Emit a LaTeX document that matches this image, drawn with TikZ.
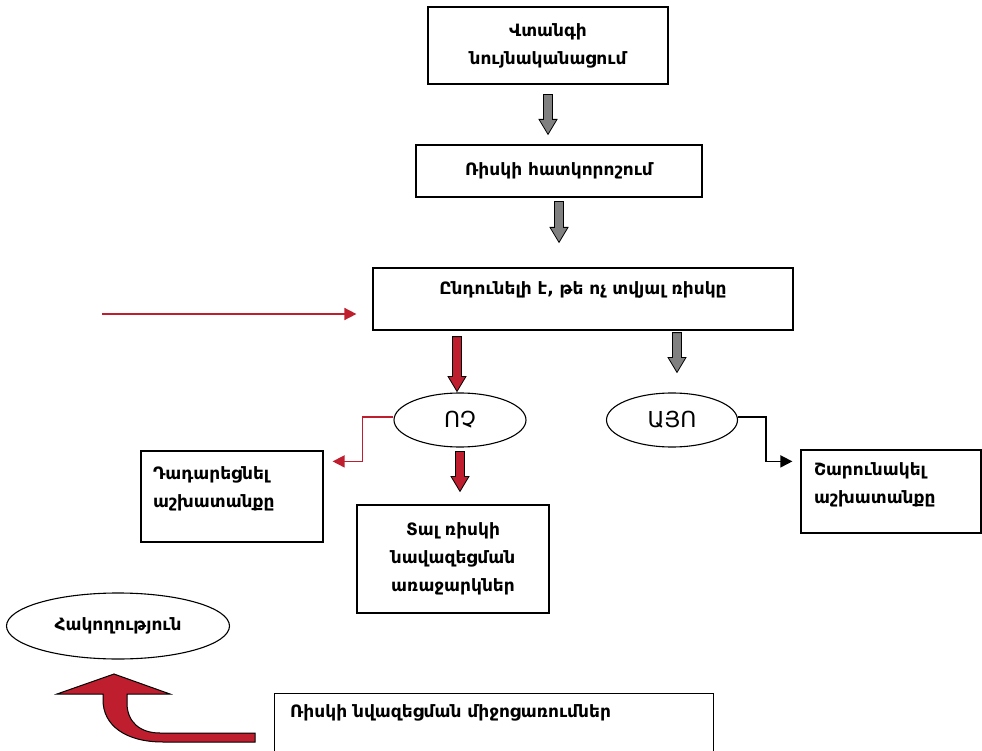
\documentclass[tikz,border=0pt]{standalone}
\usepackage{fontspec}
\setmainfont{DejaVu Sans}
\usetikzlibrary{calc,arrows.meta,shapes.geometric}
\definecolor{myred}{RGB}{190,30,45}
\definecolor{mygray}{RGB}{128,128,128}
\newcommand{\blockarr}[3]{%
  \path let \p1=(#1), \p2=(#2) in
    [draw=black, line width=0.8pt, fill=#3, line join=miter]
    (\x1-4.5pt,\y1) -- (\x1-4.5pt,\y2+15pt) -- (\x1-9pt,\y2+15pt) -- (\x1,\y2)
    -- (\x1+9pt,\y2+15pt) -- (\x1+4.5pt,\y2+15pt) -- (\x1+4.5pt,\y1) -- cycle;}
\begin{document}
\begin{tikzpicture}[x=1pt,y=-1pt,
  box/.style={draw, line width=1.2pt, inner sep=0pt, align=center,
    font=\bfseries\fontsize{17}{28}\selectfont},
  oval/.style={draw, line width=1.1pt, ellipse, inner sep=0pt,
    font=\fontsize{22}{24}\selectfont},
  redline/.style={draw=myred, line width=1.6pt, -{Triangle[length=12pt,width=12pt]}},
  blackline/.style={draw=black, line width=1.6pt, -{Triangle[length=12pt,width=12pt]}}]
\useasboundingbox (0,0) rectangle (982,751);

\node[box, minimum width=240, minimum height=77] (b1) at (548,45.5) {Վտանգի\\նույնականացում};
\node[box, minimum width=286, minimum height=52] (b2) at (559,171) {Ռիսկի հատկորոշում};
\node[box, minimum width=420, minimum height=62] (b3) at (583,299) {Ընդունելի է, թե ոչ տվյալ ռիսկը\\[-6pt]\mbox{}};
\node[oval, minimum width=132, minimum height=54] (no) at (460,420) {ՈՉ};
\node[oval, minimum width=131, minimum height=54] (yes) at (672,420) {ԱՅՈ};
\node[box, minimum width=182, minimum height=91, text width=158, align=left] (stop) at (232,496.5) {Դադարեցնել\\աշխատանքը\\[-10pt]\mbox{}};
\node[box, minimum width=192, minimum height=108] (tal) at (453,559) {Տալ ռիսկի\\նավազեցման\\առաջարկներ};
\node[box, minimum width=180, minimum height=83, text width=154, align=left] (cont) at (891,491.5) {Շարունակել\\աշխատանքը\\[-12pt]\mbox{}};
\node[oval, minimum width=223, minimum height=66, font=\bfseries\fontsize{17}{20}\selectfont] (hak) at (118,626) {Հակողություն};
\node[box, minimum width=439, minimum height=80, anchor=north west] (mid) at (274,693) {};
\node[anchor=west, inner sep=0pt, font=\bfseries\fontsize{17}{20}\selectfont] (midt) at (290,713) {Ռիսկի նվազեցման միջոցառումներ};

% block arrows
\blockarr{$(b1.south)+(0,10)$}{$(b2.north)+(0,-10)$}{mygray}
\blockarr{$(b2.south)+(0,4)$}{$(b3.north)+(0,-25)$}{mygray}
\blockarr{$(b3.south -| no.north)+(-3,6)$}{$(no.north)+(-3,-1)$}{myred}
\blockarr{$(b3.south -| yes.north)+(5,2)$}{$(yes.north)+(5,-20)$}{mygray}
\blockarr{$(no.south)+(0,4)$}{$(tal.north)+(0,-13)$}{myred}

% incoming red arrow
\coordinate (rs) at (102,314);
\draw[redline] (rs) -- ($(b3.west |- rs)+(-16,0)$);

% elbows
\draw[redline] ($(no.west)+(0,-3)$) -- ++(-31,0) |- ($(stop.north east)+(9,11)$);
\draw[blackline] ($(yes.east)+(0,-3)$) -- ++(28,0) |- ($(cont.north west)+(-8,12)$);

% curved red arrow
\draw[line width=1pt, fill=myred, line join=miter]
  (255,742) -- (163,742) .. controls (125,742) and (103,725) .. (103,700)
  -- (103,694) -- (57,694) -- (114,674) -- (170,694) -- (127,694) -- (127,703)
  .. controls (127,722) and (140,733) .. (160,733) -- (255,733) -- cycle;
\end{tikzpicture}
\end{document}
